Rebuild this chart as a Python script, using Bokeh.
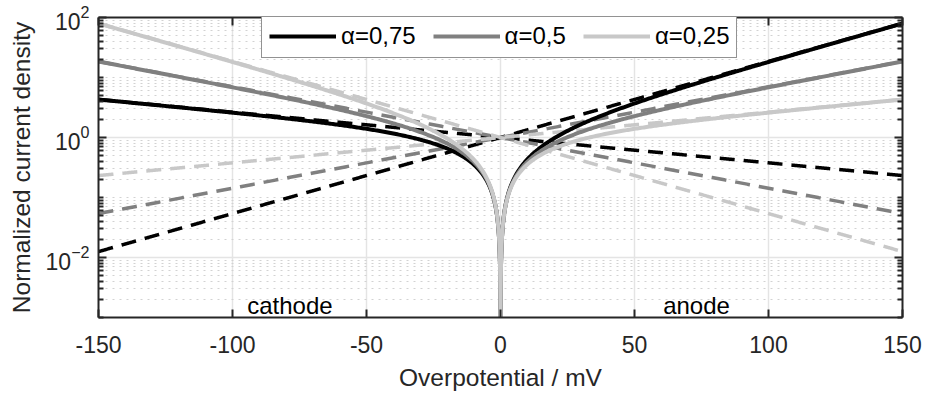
import numpy as np
from bokeh.plotting import figure
from bokeh.models import (FixedTicker, LinearAxis, LogAxis, Legend, LegendItem,
                          Label, LogTickFormatter, CustomJSTickFormatter)
from bokeh.embed import file_html
from bokeh.resources import INLINE

# Butler-Volmer kinetics: transfer coefficients shown in the legend
ALPHAS = [0.75, 0.5, 0.25]
ALPHA_LABELS = ["α=0,75", "α=0,5", "α=0,25"]

# physical constants (T = 25 °C)
FARADAY = 96485.33
GAS_R = 8.314462
TEMP_K = 298.15

X_TICKS = [-150, -100, -50, 0, 50, 100, 150]
Y_TICKS = [1e-2, 1e0, 1e2]
Y_MINOR = [k * 10.0 ** n for n in range(-3, 2) for k in range(1, 10)
           if k * 10.0 ** n not in Y_TICKS]

COLORS = ["#000000", "#808080", "#c8c8c8"]
FONT = "Liberation Sans"
AX_COLOR = "#262626"

# overpotential in mV, refined towards 0 so the |i| cusp reaches the bottom
near = np.geomspace(1e-3, 2.0, 200)
eta_mv = np.unique(np.concatenate([np.linspace(-150, 150, 601), near, -near]))
eta_mv = eta_mv[eta_mv != 0]
f = FARADAY / (GAS_R * TEMP_K) / 1000.0  # per mV

p = figure(width=926, height=394, x_range=(-150, 150), y_range=(1e-3, 1e2),
           y_axis_type="log", output_backend="svg", toolbar_location=None,
           min_border_left=98, min_border_right=24, min_border_top=17,
           min_border_bottom=77,
           x_axis_label="Overpotential / mV",
           y_axis_label="Normalized current density")
p.outline_line_color = None
p.background_fill_color = "white"
p.border_fill_color = "white"

xticker = FixedTicker(ticks=X_TICKS)
yticker = FixedTicker(ticks=Y_TICKS, minor_ticks=Y_MINOR)

# grid: solid majors, dotted minors on the log axis
p.xgrid.ticker = xticker
p.ygrid.ticker = yticker
p.xgrid.grid_line_color = "#e4e4e4"
p.ygrid.grid_line_color = "#e4e4e4"
p.xgrid.grid_line_width = 1.5
p.ygrid.grid_line_width = 1.5
p.ygrid.minor_grid_line_color = "#d2d2d2"
p.ygrid.minor_grid_line_dash = "2 5"
p.ygrid.minor_grid_line_width = 1


def style_axis(ax, minor):
    ax.axis_line_color = AX_COLOR
    ax.axis_line_width = 2
    ax.major_tick_line_color = AX_COLOR
    ax.major_tick_line_width = 2
    ax.major_tick_in = 8
    ax.major_tick_out = 0
    ax.minor_tick_line_color = AX_COLOR
    ax.minor_tick_line_width = 2
    ax.minor_tick_in = 5 if minor else 0
    ax.minor_tick_out = 0
    ax.major_label_text_font = FONT
    ax.major_label_text_font_size = "23px"
    ax.major_label_text_color = AX_COLOR
    ax.axis_label_text_font = FONT
    ax.axis_label_text_font_size = "24.5px"
    ax.axis_label_text_font_style = "normal"
    ax.axis_label_text_color = AX_COLOR


xax = p.xaxis[0]
yax = p.yaxis[0]
xax.ticker = xticker
xax.formatter = CustomJSTickFormatter(code="return tick.toString();")
yax.ticker = yticker
yax.formatter = LogTickFormatter()
style_axis(xax, False)
style_axis(yax, True)
xax.major_label_standoff = 18
xax.axis_label_standoff = 8
yax.major_label_standoff = 9
yax.axis_label_standoff = 8

top = LinearAxis(ticker=xticker)
right = LogAxis(ticker=yticker)
for ax, minor in ((top, False), (right, True)):
    style_axis(ax, minor)
    ax.major_label_text_color = None
    ax.major_label_text_font_size = "0px"
    ax.major_label_standoff = 0
p.add_layout(top, "above")
p.add_layout(right, "right")

# partial currents (dashed) and net current (solid)
solid_renderers = []
for alpha, color in zip(ALPHAS, COLORS):
    anodic = np.exp(alpha * f * eta_mv)
    cathodic = np.exp(-(1 - alpha) * f * eta_mv)
    p.line(eta_mv, anodic, line_color=color, line_width=3.5, line_dash="15 9")
    p.line(eta_mv, cathodic, line_color=color, line_width=3.5, line_dash="15 9")
for alpha, color in zip(ALPHAS, COLORS):
    net = np.abs(np.exp(alpha * f * eta_mv) - np.exp(-(1 - alpha) * f * eta_mv))
    r = p.line(eta_mv, net, line_color=color, line_width=4)
    solid_renderers.append(r)

legend = Legend(items=[LegendItem(label=lab, renderers=[r])
                       for lab, r in zip(ALPHA_LABELS, solid_renderers)],
                orientation="horizontal", location=(163, 259),
                label_text_font=FONT, label_text_font_size="24px",
                label_text_color="#000000",
                glyph_width=67, glyph_height=20, label_standoff=5,
                spacing=17, padding=7, margin=0,
                border_line_color=AX_COLOR, border_line_width=1,
                background_fill_color="white", background_fill_alpha=1)
p.add_layout(legend)

for text, xpos in (("cathode", -94.5), ("anode", 60.7)):
    p.add_layout(Label(x=xpos, y=10 ** -2.8, text=text, text_font=FONT,
                       text_font_size="24px", text_color="#000000",
                       text_baseline="alphabetic", text_align="left"))

open("out.html", "w").write(file_html(p, INLINE))
